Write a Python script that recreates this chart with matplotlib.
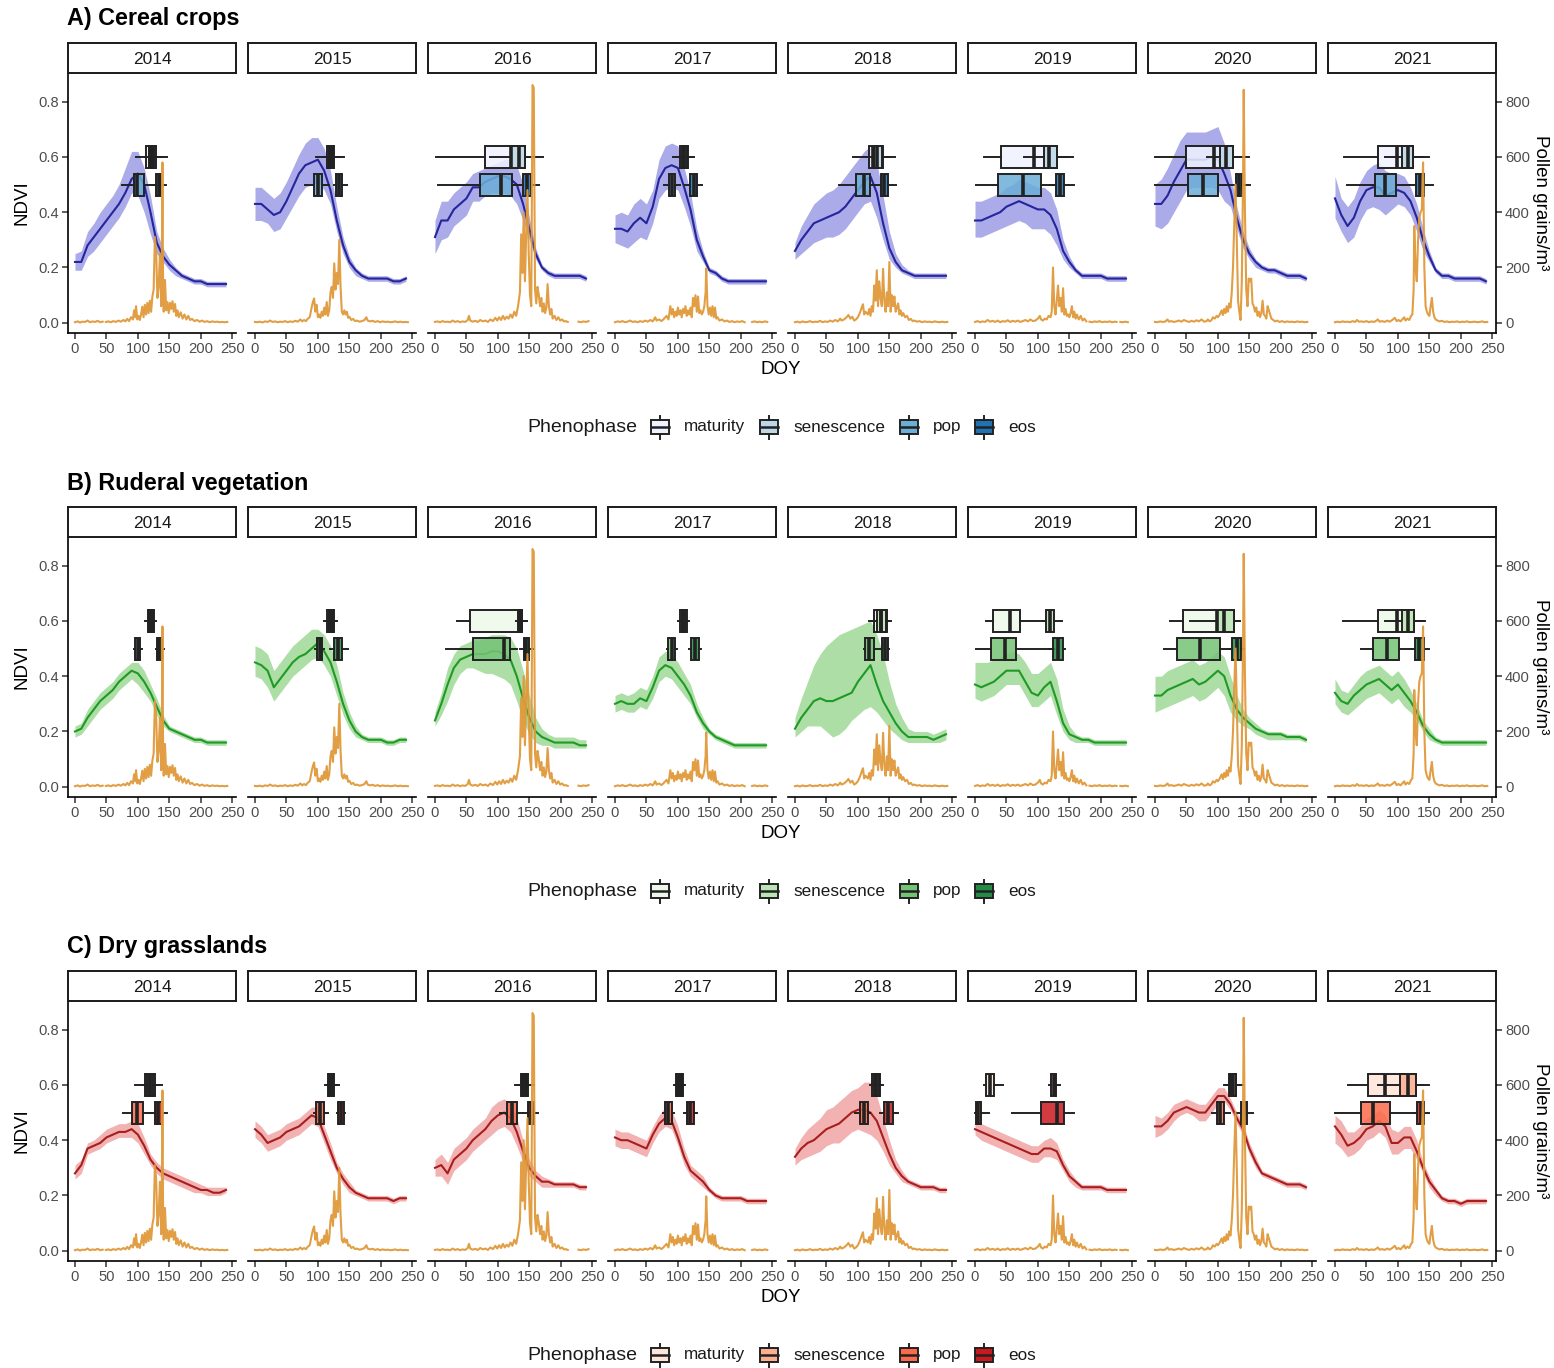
import numpy as np
import matplotlib
matplotlib.use("Agg")
import matplotlib.pyplot as plt
from matplotlib.colors import to_rgba
from matplotlib.patches import Rectangle
from matplotlib.lines import Line2D

plt.rcParams["font.family"] = ["Liberation Sans", "DejaVu Sans"]

W, H = 1554, 1368

years = [2014, 2015, 2016, 2017, 2018, 2019, 2020, 2021]
doy = np.arange(0, 241, 10)
phases = ["maturity", "senescence", "pop", "eos"]
phase_row = {"maturity": 0.6, "senescence": 0.6, "pop": 0.5, "eos": 0.5}

# NDVI (x100) every 10 days, DOY 0..240: smoothed mean and ribbon bounds
cereal_mean = [
    "22 22 28 31 34 37 40 43 47 52 54 50 40 29 24 21 19 17 16 15 15 14 14 14 14",
    "43 43 41 39 40 44 49 54 57 58 59 55 48 37 28 22 19 17 16 16 16 16 15 15 16",
    "31 37 37 41 43 45 49 49 51 52 53 53 52 50 43 34 25 20 18 17 17 17 17 17 16",
    "34 34 33 36 38 36 42 52 56 57 56 49 41 30 24 19 18 16 15 15 15 15 15 15 15",
    "26 30 33 36 37 38 39 40 42 45 48 51 53 47 36 27 22 19 18 17 17 17 17 17 17",
    "37 37 38 39 40 42 43 44 43 42 41 41 39 34 26 22 19 17 17 17 17 16 16 16 16",
    "43 43 46 51 55 59 59 59 59 60 59 54 48 38 30 25 22 20 19 19 18 17 17 17 16",
    "45 39 35 38 44 48 49 49 46 47 48 47 44 38 30 24 19 17 17 16 16 16 16 16 15",
]
cereal_lo = [
    "19 19 24 26 29 32 35 38 42 47 46 40 32 25 22 19 17 16 15 14 14 13 13 13 13",
    "37 37 36 33 34 38 42 46 49 50 51 48 43 33 25 20 17 16 15 15 15 15 14 14 15",
    "25 30 31 35 37 39 44 44 46 47 47 47 46 43 37 30 23 19 17 16 16 16 16 16 15",
    "29 28 27 29 31 30 36 45 48 49 48 42 35 26 22 18 17 15 14 14 14 14 14 14 14",
    "23 25 27 29 30 31 31 32 34 37 40 43 44 38 30 23 20 18 17 16 16 16 16 16 16",
    "31 31 32 33 34 35 36 37 36 34 34 34 32 28 23 20 18 16 16 16 16 15 15 15 15",
    "35 34 36 40 44 48 49 49 49 49 48 44 42 34 27 23 20 19 18 18 17 16 16 16 15",
    "38 33 29 31 37 41 42 41 39 41 43 42 39 33 26 22 18 16 16 15 15 15 15 15 14",
]
cereal_hi = [
    "25 26 33 36 40 43 46 50 56 62 62 56 46 33 27 23 20 18 17 16 16 15 15 15 15",
    "49 49 47 45 47 51 56 61 65 67 67 63 55 42 31 24 20 18 17 17 17 17 16 16 17",
    "37 44 44 47 49 51 54 55 56 57 58 59 59 57 50 38 27 21 19 18 18 18 18 18 17",
    "39 40 39 43 45 43 48 59 64 65 64 56 47 34 26 20 19 17 16 16 16 16 16 16 16",
    "29 35 39 43 45 47 48 50 53 56 59 62 64 58 46 33 25 21 19 18 18 18 18 18 18",
    "44 44 45 46 47 49 50 52 51 50 49 49 47 41 30 24 20 18 18 18 18 17 17 17 17",
    "50 52 56 61 66 69 69 69 69 70 71 65 54 42 33 27 23 21 20 20 19 18 18 18 17",
    "53 45 42 45 51 55 57 58 55 54 54 53 49 43 34 26 20 18 18 17 17 17 17 17 16",
]

ruderal_mean = [
    "20 21 25 28 31 33 35 38 40 42 41 38 34 29 24 21 20 19 18 17 17 16 16 16 16",
    "45 44 42 36 39 42 45 47 48 50 52 49 45 38 30 24 20 18 17 17 17 16 16 17 17",
    "24 30 37 43 46 47 48 48 48 49 49 48 46 40 32 25 20 18 17 16 16 16 16 15 15",
    "30 31 30 30 32 31 36 42 44 43 40 37 33 27 23 20 18 17 16 15 15 15 15 15 15",
    "21 25 28 31 32 31 31 32 33 34 38 41 44 37 31 27 23 20 18 18 18 18 17 18 19",
    "37 36 37 38 40 42 42 42 38 34 33 36 38 31 23 19 18 17 17 16 16 16 16 16 16",
    "33 33 35 36 37 38 39 37 38 40 42 40 33 28 25 23 21 20 19 19 19 18 18 18 17",
    "34 31 30 33 35 37 38 39 37 35 37 34 31 27 22 19 17 16 16 16 16 16 16 16 16",
]
ruderal_lo = [
    "18 19 22 25 28 30 32 35 37 39 37 34 31 26 22 20 19 18 17 16 16 15 15 15 15",
    "40 39 36 31 34 37 40 42 44 46 47 44 40 33 26 21 18 17 16 16 16 15 15 16 16",
    "22 26 31 37 41 43 43 42 41 41 40 39 37 31 24 19 16 15 15 14 14 14 14 14 14",
    "27 28 27 27 29 28 32 38 40 39 36 33 30 25 21 19 17 16 15 14 14 14 14 14 14",
    "18 20 22 22 22 20 18 19 21 24 26 28 29 27 24 21 19 17 16 16 16 16 16 16 17",
    "32 31 32 33 35 37 37 37 33 29 29 31 33 26 20 17 16 16 16 15 15 15 15 15 15",
    "27 28 29 30 31 32 33 31 32 34 36 33 27 24 22 21 19 18 17 17 17 17 17 17 16",
    "30 27 26 28 30 32 33 34 32 30 32 29 27 24 20 17 16 15 15 15 15 15 15 15 15",
]
ruderal_hi = [
    "22 23 28 31 34 36 38 41 43 45 45 42 37 32 26 22 21 20 19 18 18 17 17 17 17",
    "51 50 48 42 45 48 51 53 55 57 57 55 51 44 34 27 22 19 18 18 18 17 17 18 18",
    "27 34 43 48 51 52 53 53 54 55 55 55 54 50 42 33 25 21 19 18 18 18 18 17 17",
    "33 34 33 34 36 35 40 47 49 48 45 41 37 30 25 21 19 18 17 16 16 16 16 16 16",
    "25 32 38 44 48 51 53 55 56 57 58 59 60 55 48 38 30 25 21 20 20 20 19 20 21",
    "45 45 45 46 47 48 49 48 45 41 41 43 45 39 28 22 19 18 18 17 17 17 17 17 17",
    "40 40 42 43 44 45 46 44 45 47 49 47 40 33 28 25 23 21 20 20 20 19 19 19 18",
    "39 35 34 37 40 42 43 44 42 40 42 39 35 30 24 21 18 17 17 17 17 17 17 17 17",
]

dry_mean = [
    "28 31 37 38 39 41 42 43 43 44 42 38 33 30 28 27 26 25 24 23 22 22 21 21 22",
    "44 42 39 40 41 43 44 45 47 49 48 42 36 30 26 23 21 20 19 19 19 19 18 19 19",
    "30 31 28 33 35 37 40 42 44 47 49 50 48 43 36 30 27 25 25 24 24 24 24 23 23",
    "41 40 40 39 38 37 42 46 48 47 41 34 29 27 25 22 20 19 19 19 19 18 18 18 18",
    "34 37 39 40 42 44 45 46 48 50 51 51 50 47 41 35 30 27 25 24 23 23 23 22 22",
    "44 43 42 41 40 39 38 37 36 35 35 37 37 36 31 27 25 23 23 23 23 22 22 22 22",
    "45 45 47 50 51 52 51 50 50 53 56 56 53 48 44 37 32 28 27 26 25 24 24 24 23",
    "45 42 38 39 41 44 45 47 45 39 39 41 41 36 30 25 22 19 18 18 17 18 18 18 18",
]
dry_lo = [
    "26 28 35 36 37 39 40 41 41 41 39 35 31 28 26 25 24 23 22 21 21 20 20 20 21",
    "41 39 36 37 38 40 41 42 44 46 45 39 33 28 24 21 20 19 18 18 18 18 17 18 18",
    "27 27 24 29 31 33 36 38 40 42 44 45 43 38 32 27 25 23 23 23 23 23 23 22 22",
    "38 37 37 36 35 34 39 43 45 44 38 31 27 25 23 21 19 18 18 18 18 17 17 17 17",
    "31 33 34 35 36 38 39 39 41 43 44 43 42 40 36 31 28 25 24 23 22 22 22 21 21",
    "42 40 39 38 37 36 35 34 33 32 32 34 34 33 29 25 23 22 22 22 22 21 21 21 21",
    "41 42 44 47 49 50 49 47 47 50 53 54 51 46 42 35 30 27 26 25 24 23 23 23 22",
    "39 37 34 35 37 40 41 43 41 35 35 37 37 33 28 23 20 18 17 17 16 17 17 17 17",
]
dry_hi = [
    "31 33 39 40 42 44 45 46 46 47 46 41 35 32 30 29 28 27 26 25 24 23 23 23 23",
    "47 45 42 43 44 46 47 48 50 52 52 45 39 32 28 25 22 21 20 20 20 20 19 20 20",
    "33 35 32 37 39 41 44 46 48 52 54 55 53 48 40 33 29 27 26 25 25 25 25 24 24",
    "44 43 43 42 41 40 45 49 52 51 45 37 31 29 27 23 21 20 20 20 20 19 19 19 19",
    "37 41 44 46 48 51 52 54 56 58 59 61 61 56 48 40 33 29 26 25 24 24 24 23 23",
    "46 46 45 44 43 42 41 40 39 38 38 40 41 39 33 29 26 24 24 24 24 23 23 23 23",
    "49 48 50 53 54 55 54 53 53 56 59 59 55 50 46 39 34 29 28 27 26 25 25 25 24",
    "49 47 43 43 45 48 49 51 49 44 43 45 45 40 32 27 23 20 19 19 18 19 19 19 19",
]

# phenophase DOY summaries: (whisker low, q1, median, q3, whisker high)
cereal_box = [
    {"maturity": (97, 113, 120, 128, 147), "senescence": (112, 118, 122, 126, 138),
     "pop": (74, 93, 99, 109, 125), "eos": (120, 129, 133, 137, 145)},
    {"maturity": (97, 114, 119, 126, 141), "senescence": (108, 118, 121, 124, 134),
     "pop": (79, 94, 100, 106, 118), "eos": (125, 129, 134, 139, 146)},
    {"maturity": (1, 79, 121, 143, 171), "senescence": (87, 121, 134, 143, 165),
     "pop": (4, 72, 105, 122, 135), "eos": (130, 140, 147, 153, 165)},
    {"maturity": (92, 103, 109, 116, 126), "senescence": (100, 106, 110, 114, 122),
     "pop": (78, 86, 91, 96, 104), "eos": (112, 120, 125, 130, 139)},
    {"maturity": (92, 117, 124, 140, 159), "senescence": (110, 126, 131, 138, 150),
     "pop": (70, 97, 110, 119, 130), "eos": (128, 137, 142, 148, 160)},
    {"maturity": (14, 42, 93, 130, 155), "senescence": (78, 110, 118, 130, 150),
     "pop": (1, 37, 76, 105, 125), "eos": (120, 128, 135, 141, 158)},
    {"maturity": (0, 49, 94, 124, 150), "senescence": (82, 103, 113, 124, 140),
     "pop": (0, 52, 77, 100, 120), "eos": (118, 129, 134, 139, 151)},
    {"maturity": (15, 69, 98, 124, 150), "senescence": (80, 107, 116, 124, 140),
     "pop": (19, 64, 79, 97, 120), "eos": (120, 129, 135, 141, 155)},
]
ruderal_box = [
    {"maturity": (112, 116, 120, 125, 129), "senescence": (115, 118, 121, 124, 127),
     "pop": (93, 96, 100, 104, 107), "eos": (128, 131, 134, 138, 141)},
    {"maturity": (110, 115, 120, 126, 131), "senescence": (113, 117, 121, 124, 128),
     "pop": (96, 99, 103, 107, 110), "eos": (119, 126, 132, 139, 148)},
    {"maturity": (35, 56, 135, 139, 147), "senescence": (128, 132, 136, 139, 147),
     "pop": (17, 61, 110, 119, 131), "eos": (135, 141, 145, 150, 155)},
    {"maturity": (100, 103, 108, 114, 118), "senescence": (103, 106, 109, 112, 115),
     "pop": (82, 85, 90, 95, 98), "eos": (117, 121, 127, 133, 137)},
    {"maturity": (117, 126, 136, 147, 152), "senescence": (122, 130, 137, 144, 150),
     "pop": (110, 111, 118, 126, 139), "eos": (137, 139, 143, 148, 150)},
    {"maturity": (17, 28, 55, 72, 113), "senescence": (108, 113, 120, 126, 139),
     "pop": (1, 26, 48, 65, 125), "eos": (118, 124, 132, 140, 143)},
    {"maturity": (24, 44, 98, 125, 135), "senescence": (55, 98, 109, 125, 133),
     "pop": (15, 35, 72, 104, 120), "eos": (118, 122, 130, 137, 142)},
    {"maturity": (13, 68, 98, 126, 143), "senescence": (80, 107, 116, 126, 140),
     "pop": (41, 61, 82, 102, 125), "eos": (120, 127, 134, 141, 150)},
]
dry_box = [
    {"maturity": (95, 111, 119, 127, 138), "senescence": (108, 114, 119, 124, 132),
     "pop": (76, 90, 99, 108, 120), "eos": (120, 127, 132, 138, 146)},
    {"maturity": (112, 116, 121, 126, 134), "senescence": (114, 118, 121, 124, 130),
     "pop": (94, 97, 103, 110, 116), "eos": (130, 132, 136, 141, 143)},
    {"maturity": (127, 136, 142, 148, 158), "senescence": (132, 138, 143, 147, 152),
     "pop": (103, 115, 122, 130, 140), "eos": (140, 148, 153, 158, 163)},
    {"maturity": (94, 97, 102, 108, 111), "senescence": (96, 99, 103, 106, 109),
     "pop": (76, 79, 84, 90, 93), "eos": (110, 115, 120, 126, 130)},
    {"maturity": (120, 123, 129, 135, 140), "senescence": (122, 125, 129, 133, 137),
     "pop": (95, 104, 110, 116, 120), "eos": (135, 142, 148, 155, 163)},
    {"maturity": (14, 18, 24, 30, 44), "senescence": (118, 121, 125, 129, 135),
     "pop": (0, 1, 5, 10, 22), "eos": (59, 105, 131, 142, 157)},
    {"maturity": (110, 117, 123, 129, 140), "senescence": (113, 119, 124, 128, 135),
     "pop": (90, 99, 104, 109, 120), "eos": (130, 136, 141, 146, 155)},
    {"maturity": (21, 53, 80, 129, 149), "senescence": (68, 104, 116, 129, 140),
     "pop": (0, 42, 60, 88, 130), "eos": (126, 131, 137, 142, 150)},
]

# daily pollen counts (grains/m3) as (DOY, value); None marks missing days
pollen_2014 = [(0, 2), (4, 5), (8, 1), (12, 4), (16, 3), (20, 8), (24, 2), (28, 5), (32, 3), (36, 7), (40, 2), (44, 4),
               (45, None), (49, 3), (53, 5), (57, 2), (61, 6), (65, 3), (69, 8), (73, 4), (77, 10), (80, 5), (83, 14),
               (86, 6), (89, 20), (92, 12), (94, 45), (96, 20), (97, 60), (99, 12), (101, 25), (103, 10), (105, 30),
               (107, 58), (109, 20), (111, 65), (113, 30), (115, 72), (117, 35), (119, 80), (121, 40), (123, 95),
               (125, 120), (127, 310), (129, 260), (131, 90), (133, 130), (135, 250), (137, 60), (138, 200),
               (139, 580), (140, 120), (141, 40), (143, 155), (145, 45), (147, 75), (149, 35), (151, 72), (153, 50),
               (155, 78), (157, 40), (159, 68), (161, 25), (163, 45), (165, 20), (168, 38), (171, 15), (174, 30),
               (177, 12), (180, 25), (183, 10), (186, 14), (190, 6), (194, 10), (198, 4), (202, 8), (206, 3), (210, 6),
               (214, 2), (218, 5), (222, 3), (226, 4), (230, 2), (234, 3), (238, 2), (242, 3)]
pollen_2015 = [(0, 3), (4, 2), (8, 4), (12, 1), (16, 5), (20, 3), (24, 8), (28, 3), (32, 5), (36, 2), (40, 4), (44, 3),
               (48, 6), (52, 2), (56, 5), (60, 3), (64, 7), (68, 4), (72, 12), (75, 5), (78, 10), (81, 6), (84, 15),
               (87, 20), (90, 55), (92, 75), (94, 88), (96, 40), (98, 65), (100, 20), (102, 30), (104, 18), (106, 40),
               (108, 25), (110, 55), (112, 30), (114, 75), (116, 25), (118, 45), (120, 110), (122, 130), (124, 90),
               (126, 215), (128, 120), (130, 180), (132, 140), (134, 300), (136, 130), (138, 40), (140, 30), (142, 45),
               (144, 30), (146, 40), (148, 18), (150, 22), (153, 10), (156, 14), (159, 6), (162, 8), (166, 4), (170, 6),
               (174, 10), (177, 20), (179, 8), (183, 5), (187, 7), (191, 3), (195, 6), (199, 2), (203, 5), (207, 3),
               (211, 4), (215, 2), (219, 3), (223, 5), (227, 2), (231, 4), (235, 2), (239, 3), (243, 2)]
pollen_2016 = [(0, 3), (4, 5), (8, 2), (12, 6), (16, 3), (20, 4), (24, 2), (28, 8), (32, 3), (36, 6), (40, 2), (44, 5),
               (48, 3), (52, 10), (54, 25), (56, 8), (60, 4), (64, 7), (68, 3), (72, 10), (76, 5), (80, 8), (84, 3),
               (88, 12), (92, 6), (96, 18), (99, 8), (102, 20), (105, 10), (108, 25), (111, 12), (114, 22), (117, 15),
               (120, 30), (123, 18), (126, 40), (129, 25), (132, 60), (135, 110), (137, 320), (139, 180), (141, 400),
               (143, 150), (145, 320), (147, 480), (149, 250), (151, 100), (153, 60), (155, 860), (157, 850),
               (159, 120), (161, 70), (163, 130), (165, 100), (167, 60), (169, 90), (171, 40), (173, 70), (175, 35),
               (177, 55), (179, 140), (181, 60), (183, 30), (185, 50), (187, 15), (190, 25), (193, 10), (196, 20),
               (199, 8), (202, 12), (205, 5), (208, 6), (211, 3), (212, None), (228, 4), (232, 2), (236, 5), (240, 3),
               (244, 6)]
pollen_2017 = [(0, 2), (4, 5), (8, 3), (12, 6), (16, 2), (20, 4), (24, 8), (28, 3), (32, 5), (36, 2), (40, 6), (44, 3),
               (48, 8), (52, 4), (56, 10), (60, 5), (64, 20), (66, 8), (70, 12), (74, 6), (78, 15), (82, 25), (85, 12),
               (88, 60), (90, 30), (92, 50), (94, 20), (96, 40), (98, 25), (100, 55), (102, 30), (104, 45), (106, 20),
               (108, 50), (110, 35), (112, 60), (114, 25), (116, 45), (118, 30), (120, 55), (122, 20), (124, 90),
               (126, 60), (128, 100), (130, 40), (132, 95), (134, 35), (136, 45), (138, 30), (140, 40), (142, 60),
               (144, 110), (145, 197), (147, 60), (149, 30), (151, 55), (153, 25), (155, 60), (157, 20), (159, 55),
               (161, 15), (163, 20), (166, 8), (170, 12), (174, 5), (178, 8), (182, 3), (186, 6), (190, 2), (194, 5),
               (198, 3), (202, 6), (206, 2), (207, None), (218, 3), (222, 5), (226, 2), (230, 4), (234, 2), (238, 5),
               (242, 3)]
pollen_2018 = [(0, 2), (4, 4), (8, 1), (12, 5), (16, 2), (20, 3), (24, 6), (28, 2), (32, 4), (36, 3), (40, 7), (44, 2),
               (48, 5), (52, 3), (56, 8), (60, 4), (64, 10), (68, 5), (72, 15), (74, 8), (78, 12), (82, 20), (85, 28),
               (88, 15), (91, 22), (94, 8), (97, 12), (100, 20), (103, 35), (106, 55), (108, 67), (110, 30), (112, 40),
               (114, 35), (116, 30), (118, 50), (120, 25), (122, 60), (124, 40), (126, 135), (128, 80), (130, 190),
               (132, 60), (134, 150), (136, 90), (138, 60), (140, 195), (142, 80), (144, 40), (146, 110), (148, 60),
               (150, 220), (152, 40), (154, 100), (156, 60), (158, 95), (160, 40), (162, 55), (164, 70), (166, 30),
               (168, 45), (170, 25), (172, 35), (175, 20), (178, 25), (181, 10), (184, 14), (187, 6), (190, 8),
               (194, 4), (198, 6), (202, 2), (206, 5), (210, 3), (214, 4), (218, 2), (222, 5), (226, 3), (230, 2),
               (234, 4), (238, 2), (242, 3)]
pollen_2019 = [(0, 3), (4, 6), (8, 2), (12, 5), (16, 3), (20, 10), (24, 4), (28, 7), (32, 3), (36, 8), (40, 2), (44, 6),
               (48, 4), (52, 9), (56, 3), (60, 7), (64, 4), (68, 8), (72, 3), (76, 6), (80, 10), (84, 5), (88, 12),
               (92, 6), (96, 8), (100, 15), (103, 25), (105, 12), (108, 8), (111, 15), (114, 12), (117, 25), (120, 20),
               (122, 40), (124, 200), (126, 60), (128, 30), (130, 80), (132, 135), (134, 60), (136, 90), (138, 40),
               (140, 125), (142, 30), (144, 50), (146, 25), (148, 30), (150, 20), (152, 35), (154, 60), (156, 20),
               (158, 40), (160, 15), (162, 30), (165, 12), (168, 25), (171, 8), (174, 15), (177, 5), (178, None),
               (182, 4), (186, 2), (190, 5), (194, 3), (198, 6), (202, 2), (206, 4), (210, 3), (214, 5), (218, 2),
               (222, 4), (225, 3), (226, None), (231, 3), (235, 2), (239, 4), (243, 2)]
pollen_2020 = [(0, 3), (4, 2), (8, 5), (12, 3), (16, 4), (20, 12), (22, 4), (26, 6), (30, 3), (34, 5), (38, 8), (42, 4),
               (46, 10), (50, 6), (54, 3), (58, 7), (62, 4), (66, 9), (70, 5), (74, 12), (78, 4), (82, 6), (84, 12),
               (87, 5), (90, 10), (92, 20), (95, 15), (98, 25), (100, 20), (103, 30), (106, 45), (108, 28), (110, 50),
               (112, 35), (114, 60), (116, 40), (118, 70), (120, 55), (122, 110), (124, 200), (126, 360), (128, 500),
               (130, 300), (132, 80), (134, 40), (136, 10), (138, 150), (140, 520), (141, 843), (143, 400), (145, 120),
               (147, 60), (149, 160), (151, 150), (153, 160), (155, 70), (157, 60), (159, 40), (161, 55), (163, 25),
               (165, 40), (167, 20), (169, 35), (171, 80), (173, 30), (175, 25), (177, 15), (179, 60), (181, 45),
               (183, 30), (185, 15), (188, 10), (191, 5), (194, 8), (198, 3), (202, 6), (206, 2), (210, 5), (214, 3),
               (218, 4), (222, 2), (226, 5), (230, 3), (234, 4), (238, 2), (242, 3)]
pollen_2021 = [(0, 2), (4, 4), (8, 2), (12, 5), (16, 3), (20, 4), (24, 2), (28, 6), (32, 3), (35, 10), (38, 4), (42, 5),
               (46, 3), (50, 6), (54, 2), (58, 5), (62, 3), (66, 8), (68, 12), (71, 4), (75, 6), (79, 3), (83, 8),
               (87, 4), (91, 10), (95, 18), (98, 6), (101, 10), (104, 5), (107, 12), (110, 20), (112, 8), (115, 15),
               (118, 10), (121, 25), (123, 30), (125, 120), (126, 350), (128, 200), (130, 150), (132, 300), (134, 380),
               (136, 400), (138, 410), (140, 580), (142, 200), (144, 60), (146, 40), (148, 30), (150, 25), (152, 60),
               (154, 90), (156, 40), (158, 20), (160, 12), (163, 8), (166, 5), (170, 7), (174, 3), (178, 5), (182, 2),
               (186, 4), (190, 3), (194, 5), (198, 2), (202, 4), (206, 3), (210, 5), (214, 2), (218, 3), (222, 4),
               (226, 2), (230, 3), (234, 5), (238, 2), (242, 3)]
pollen = [pollen_2014, pollen_2015, pollen_2016, pollen_2017,
          pollen_2018, pollen_2019, pollen_2020, pollen_2021]

groups = [
    dict(title="A) Cereal crops", mean=cereal_mean, lo=cereal_lo, hi=cereal_hi, box=cereal_box,
         line="#25259c", ribbon="#ababea", fills=["#eff3ff", "#bdd7e7", "#6baed6", "#2171b5"]),
    dict(title="B) Ruderal vegetation", mean=ruderal_mean, lo=ruderal_lo, hi=ruderal_hi, box=ruderal_box,
         line="#1f9a24", ribbon="#acdea6", fills=["#edf8e9", "#bae4b3", "#74c476", "#238b45"]),
    dict(title="C) Dry grasslands", mean=dry_mean, lo=dry_lo, hi=dry_hi, box=dry_box,
         line="#a81e1e", ribbon="#f2b2b2", fills=["#fee5d9", "#fcae91", "#fb6a4a", "#cb181d"]),
]

POLLEN_COL = "#e0993a"
EDGE = "#222222"
TICK_COL = "#4d4d4d"
YLIM = (-0.037, 0.900)
XLIM = (-11.1, 255.9)


def vals(s):
    return np.array(s.split(), dtype=float) / 100.0


def fx(x):
    return x / W


def fy(y):
    return 1 - y / H


def draw_box(ax, st, y, col):
    stats = [dict(whislo=st[0], q1=st[1], med=st[2], q3=st[3], whishi=st[4], fliers=[])]
    kw = dict(positions=[y], widths=0.08, patch_artist=True, showcaps=False, showfliers=False,
              manage_ticks=False, zorder=3,
              boxprops=dict(facecolor=to_rgba(col, 0.85), edgecolor=EDGE, linewidth=1.4),
              whiskerprops=dict(color=EDGE, linewidth=1.4),
              medianprops=dict(color=EDGE, linewidth=2.6, solid_capstyle="butt"))
    try:
        ax.bxp(stats, orientation="horizontal", **kw)
    except TypeError:
        ax.bxp(stats, vert=False, **kw)


def legend(dy, fills):
    yc = 427 + dy
    fig.text(fx(527), fy(yc), "Phenophase", fontsize=14, ha="left", va="center", color="#1a1a1a")
    for xc, lab, col in zip([660, 769, 909, 984], phases, fills):
        fig.add_artist(Rectangle((fx(xc - 9), fy(yc + 7)), 18 / W, 14 / H, transform=fig.transFigure,
                                 facecolor=col, edgecolor=EDGE, lw=1.4))
        fig.add_artist(Line2D([fx(xc - 9), fx(xc + 9)], [fy(yc), fy(yc)], transform=fig.transFigure,
                              color=EDGE, lw=1.8))
        fig.add_artist(Line2D([fx(xc), fx(xc)], [fy(yc - 7), fy(yc - 11.5)], transform=fig.transFigure,
                              color=EDGE, lw=1.4))
        fig.add_artist(Line2D([fx(xc), fx(xc)], [fy(yc + 7), fy(yc + 11.5)], transform=fig.transFigure,
                              color=EDGE, lw=1.4))
        fig.text(fx(xc + 24), fy(yc), lab, fontsize=12.3, ha="left", va="center", color="#1a1a1a")


fig = plt.figure(figsize=(W / 100, H / 100), dpi=100)
fig.patch.set_facecolor("white")

for g, grp in enumerate(groups):
    dy = 464 * g
    fig.text(fx(67), fy(19 + dy), grp["title"], fontsize=16.8, fontweight="bold", ha="left", va="center")

    for i, yr in enumerate(years):
        x0 = 68 + 180 * i
        ax = fig.add_axes([fx(x0), fy(333 + dy), 168 / W, 259 / H])
        ax.set_facecolor("none")

        m = vals(grp["mean"][i])
        lo = vals(grp["lo"][i])
        hi = vals(grp["hi"][i])
        ax.fill_between(doy, lo, hi, color=grp["ribbon"], lw=0, zorder=1)
        ax.plot(doy, m, color=grp["line"], lw=1.5, zorder=2)

        for k, ph in enumerate(phases):
            draw_box(ax, grp["box"][i][ph], phase_row[ph], grp["fills"][k])

        ax.set_xlim(*XLIM)
        ax.set_ylim(*YLIM)
        ax.set_xticks([0, 50, 100, 150, 200, 250])
        ax.tick_params(axis="x", length=4, width=1.1, color="#333333", labelsize=10.6,
                       labelcolor=TICK_COL, pad=2.5)
        for s in ["top", "right"]:
            ax.spines[s].set_visible(False)
        ax.spines["bottom"].set_linewidth(1.2)
        if i == 0:
            ax.set_yticks([0, 0.2, 0.4, 0.6, 0.8])
            ax.set_yticklabels(["0.0", "0.2", "0.4", "0.6", "0.8"])
            ax.tick_params(axis="y", length=4, width=1.1, color="#333333", labelsize=10.6,
                           labelcolor=TICK_COL, pad=2.5)
            ax.spines["left"].set_linewidth(1.2)
        else:
            ax.set_yticks([])
            ax.spines["left"].set_visible(False)

        # pollen on its own scale, same zero as NDVI
        ax2 = ax.twinx()
        pd_ = np.array([p[0] for p in pollen[i]], dtype=float)
        pv_ = np.array([np.nan if p[1] is None else p[1] for p in pollen[i]], dtype=float)
        ax2.plot(pd_, pv_, color=POLLEN_COL, lw=1.5, zorder=4, alpha=0.95)
        ax2.set_ylim(YLIM[0] * 1000, YLIM[1] * 1000)
        ax2.set_xlim(*XLIM)
        for s in ["top", "left", "bottom"]:
            ax2.spines[s].set_visible(False)
        if i == len(years) - 1:
            ax2.set_yticks([0, 200, 400, 600, 800])
            ax2.tick_params(axis="y", length=4, width=1.1, color="#333333", labelsize=10.6,
                            labelcolor=TICK_COL, pad=2.5)
            ax2.spines["right"].set_linewidth(1.2)
        else:
            ax2.set_yticks([])
            ax2.spines["right"].set_visible(False)

        # facet strip
        sax = fig.add_axes([fx(x0), fy(73 + dy), 168 / W, 30 / H])
        sax.set_xticks([])
        sax.set_yticks([])
        for s in sax.spines.values():
            s.set_linewidth(1.4)
            s.set_color("#1a1a1a")
        sax.text(0.5, 0.45, str(yr), transform=sax.transAxes, ha="center", va="center",
                 fontsize=12.5, color="#1a1a1a")

    fig.text(fx(22), fy(203 + dy), "NDVI", rotation=90, fontsize=13.5, ha="center", va="center")
    fig.text(fx(1541), fy(203 + dy), "Pollen grains/m³", rotation=270, fontsize=13.5,
             ha="center", va="center")
    fig.text(fx(781), fy(370 + dy), "DOY", fontsize=13.5, ha="center", va="center")
    legend(dy, grp["fills"])

fig.savefig("out.png", dpi=100, facecolor="white")
